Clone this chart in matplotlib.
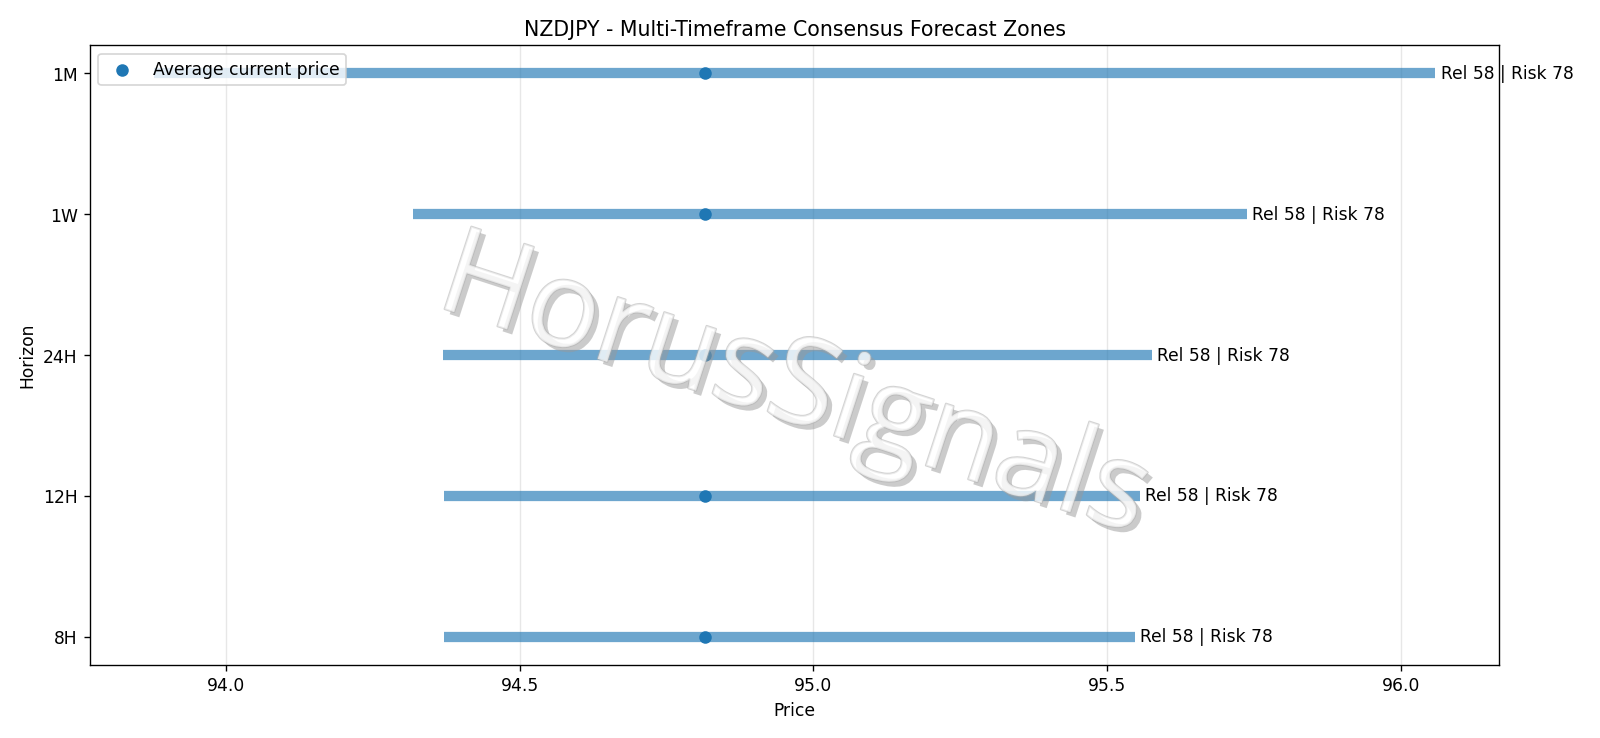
import matplotlib
matplotlib.use("Agg")
import matplotlib.pyplot as plt
import matplotlib.patheffects as pe

horizons = ["8H", "12H", "24H", "1W", "1M"]
low = [94.372, 94.372, 94.370, 94.319, 93.877]
high = [95.547, 95.556, 95.576, 95.738, 96.059]
current = [94.816, 94.816, 94.816, 94.816, 94.816]
rel = [58, 58, 58, 58, 58]
risk = [78, 78, 78, 78, 78]

fig = plt.figure(figsize=(13, 6), dpi=123.1)
ax = fig.add_axes([0.056, 0.099, 0.881, 0.839])

ypos = list(range(len(horizons)))
ax.hlines(ypos, low, high, color="#1f77b4", alpha=0.65, linewidth=6)
ax.scatter(current, ypos, color="#1f77b4", s=40, zorder=3, label="Average current price")
for y, h, r, k in zip(ypos, high, rel, risk):
    ax.annotate(f"Rel {r} | Risk {k}", (h, y), xytext=(3, 0), textcoords="offset points",
                va="center", ha="left", fontsize=10)

ax.set_yticks(ypos)
ax.set_yticklabels(horizons)
ax.set_xlabel("Price")
ax.set_ylabel("Horizon")
ax.set_title("NZDJPY - Multi-Timeframe Consensus Forecast Zones")
ax.grid(axis="x", alpha=0.3)
ax.legend(loc="upper left")

fig.text(0.496, 0.472, "HorusSignals", fontsize=71, color="white", alpha=0.55,
         rotation=-18, ha="center", va="center", family="Open Sans",
         path_effects=[pe.SimplePatchShadow(offset=(3, -3), shadow_rgbFace="#999999", alpha=0.5),
                       pe.Stroke(linewidth=1.2, foreground="#b0b0b0"), pe.Normal()],
         zorder=10)

fig.savefig("out.png", dpi=123.1)
